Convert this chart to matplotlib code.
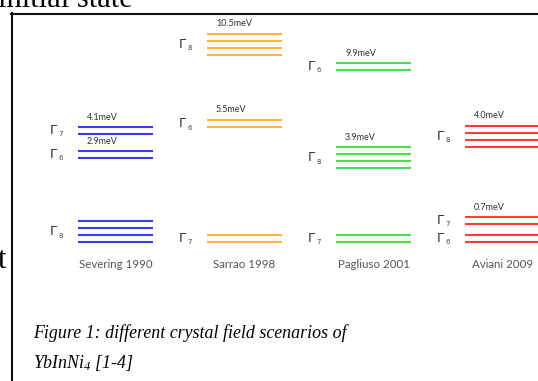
import matplotlib
matplotlib.use("Agg")
import matplotlib.pyplot as plt
from matplotlib.lines import Line2D

# ---------------- data ----------------
scenarios = ["Severing 1990", "Sarrao 1998", "Pagliuso 2001", "Aviani 2009"]
# crystal-field levels of each scenario, from ground state upwards
level_gamma = [[8, 6, 7], [7, 6, 8], [7, 8, 6], [6, 7, 8]]
level_degeneracy = [[4, 2, 2], [2, 2, 4], [2, 4, 2], [2, 2, 4]]
# schematic height of each level (bottom line) in the diagram
level_height = [[0, 84, 108], [0, 115, 187], [0, 74, 172], [0, 18, 95]]
level_energy = [["", "2.9meV", "4.1meV"],
                ["", "5.5meV", "10.5meV"],
                ["", "3.9meV", "9.9meV"],
                ["", "0.7meV", "4.0meV"]]
caption_line1 = "Figure 1: different crystal field scenarios of"
caption_line2 = r"$\mathit{YbInNi}_{4}$ [1-4]"

# ---------------- style ----------------
colors = ["#3a3af0", "#ffb43c", "#48e048", "#ff3c3c"]
W, H = 538, 381
plt.rcParams["mathtext.fontset"] = "custom"
plt.rcParams["mathtext.it"] = "Liberation Serif:italic"
plt.rcParams["mathtext.rm"] = "Liberation Serif:italic"

fig = plt.figure(figsize=(W / 100, H / 100), dpi=100)
ax = fig.add_axes([0, 0, 1, 1])
ax.axis("off")

col_px = 129.0          # px between columns
x0_px = 115.5           # px centre of first column
ground_px = 242.0       # px (from top) of ground line
ax.set_xlim(-x0_px / col_px, (W - x0_px) / col_px)
ax.set_ylim(ground_px - H, ground_px)   # 1 y-unit == 1 px

half = 37.5 / col_px    # half line length
sep = 7.0               # spacing of lines within a multiplet
dx = lambda px: px / col_px

for i, name in enumerate(scenarios):
    c = colors[i]
    for g, deg, h, e in zip(level_gamma[i], level_degeneracy[i],
                            level_height[i], level_energy[i]):
        ys = [h + k * sep for k in range(deg)]
        ax.hlines(ys, i - half, i + half, colors=c, lw=1.5)
        yc = h + (deg - 1) * sep / 2
        xg = i - half - dx(28)
        ax.text(xg, yc, "Γ", ha="left", va="center", fontsize=9.5,
                family="DejaVu Sans", color="#333333")
        ax.text(xg + dx(8.5), yc - 4, str(g), ha="left", va="center",
                fontsize=5, family="DejaVu Sans", color="#444444")
        if e:
            ax.text(i - half + dx(9), ys[-1] + 10, e, ha="left", va="center",
                    fontsize=6.5, family="Lato", color="#333333")
    ax.text(i, -23, name, ha="center", va="center", fontsize=8.3,
            family="Lato", color="#555555")

# ---------------- document frame & text ----------------
fig.add_artist(Line2D([12 / W, 12 / W], [0, 1 - 12.7 / H],
                      transform=fig.transFigure, color="#111111", lw=1.5))
fig.add_artist(Line2D([11.3 / W, 1], [1 - 13.5 / H, 1 - 13.5 / H],
                      transform=fig.transFigure, color="#111111", lw=1.5))
fig.text(133 / W, 1 - 6.7 / H, "initial state", ha="right", va="baseline",
         fontsize=22, family="Liberation Serif", color="black")
fig.text(6.5 / W, 1 - 268 / H, "t", ha="right", va="baseline",
         fontsize=22, family="Liberation Serif", color="black")
fig.text(33 / W, 1 - 338 / H, caption_line1, ha="left", va="baseline",
         fontsize=12.9, family="Liberation Serif", style="italic", color="black")
fig.text(33 / W, 1 - 368 / H, caption_line2, ha="left", va="baseline",
         fontsize=12.9, family="Liberation Serif", style="italic", color="black")

fig.savefig("out.png", dpi=100)
